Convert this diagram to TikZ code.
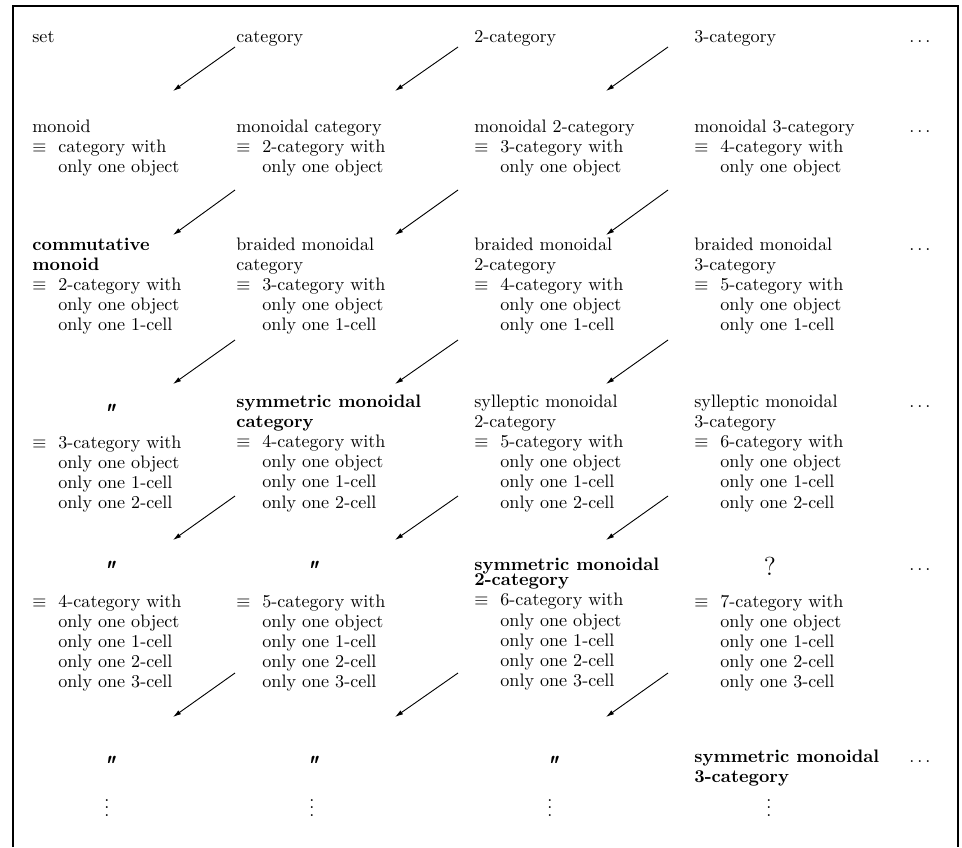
\documentclass[tikz,border=0pt]{standalone}
\usetikzlibrary{arrows.meta}
\newcommand\eqv{\makebox[14.4pt][l]{$\equiv$}}
\newcommand\ind{\hspace*{14.4pt}}
\newcommand\celltext[1]{\begin{tabular}[t]{@{}l@{}}#1\end{tabular}}
\newcommand\tdots{.\kern1.67pt.\kern1.67pt.}
\newcommand\tightvdots{\vbox{\baselineskip4pt\lineskiplimit0pt\hbox{.}\hbox{.}\hbox{.}}}
\tikzset{
  cell/.style={anchor=base west, inner sep=0pt, font=\fontsize{10}{11.17}\selectfont},
  ditto/.style={anchor=base, inner sep=0pt, font=\Large\bfseries\itshape},
  moredots/.style={anchor=base west, inner sep=0pt},
  vdotsnode/.style={anchor=base, inner sep=0pt},
  arr/.style={-{Latex[length=4.5pt,width=2.6pt]}, line width=0.5pt},
  frame/.style={line width=1pt}
}
\begin{document}
\begin{tikzpicture}[x=0.553pt, y=-0.553pt]
\useasboundingbox (0,0) rectangle (962,847);
\draw[frame] (13,847) -- (13,6) -- (958,6) -- (958,847);

% row 0
\node[cell] (n00) at (32,42) {set};
\node[cell] (n01) at (236,42) {category};
\node[cell] (n02) at (474,42) {2-category};
\node[cell] (n03) at (694,42) {3-category};
\node[moredots] (d0) at (909,42) {\tdots};

% row 1
\node[cell] (n10) at (32,132) {\celltext{monoid\\\eqv category with\\\ind only one object}};
\node[cell] (n11) at (236,132) {\celltext{monoidal category\\\eqv 2-category with\\\ind only one object}};
\node[cell] (n12) at (474,132) {\celltext{monoidal 2-category\\\eqv 3-category with\\\ind only one object}};
\node[cell] (n13) at (694,132) {\celltext{monoidal 3-category\\\eqv 4-category with\\\ind only one object}};
\node[moredots] (d1) at (909,132) {\tdots};

% row 2
\node[cell] (n20) at (32,250) {\celltext{\textbf{commutative}\\\textbf{monoid}\\\eqv 2-category with\\\ind only one object\\\ind only one 1-cell}};
\node[cell] (n21) at (236,250) {\celltext{braided monoidal\\category\\\eqv 3-category with\\\ind only one object\\\ind only one 1-cell}};
\node[cell] (n22) at (474,250) {\celltext{braided monoidal\\2-category\\\eqv 4-category with\\\ind only one object\\\ind only one 1-cell}};
\node[cell] (n23) at (694,250) {\celltext{braided monoidal\\3-category\\\eqv 5-category with\\\ind only one object\\\ind only one 1-cell}};
\node[moredots] (d2) at (909,250) {\tdots};

% row 3
\node[ditto] (q30) at (108,422) {\textquotedbl};
\node[cell] (n30) at (32,448) {\celltext{\eqv 3-category with\\\ind only one object\\\ind only one 1-cell\\\ind only one 2-cell}};
\node[cell] (n31) at (236,407) {\celltext{\textbf{symmetric monoidal}\\\textbf{category}\\\eqv 4-category with\\\ind only one object\\\ind only one 1-cell\\\ind only one 2-cell}};
\node[cell] (n32) at (474,407) {\celltext{sylleptic monoidal\\2-category\\\eqv 5-category with\\\ind only one object\\\ind only one 1-cell\\\ind only one 2-cell}};
\node[cell] (n33) at (694,407) {\celltext{sylleptic monoidal\\3-category\\\eqv 6-category with\\\ind only one object\\\ind only one 1-cell\\\ind only one 2-cell}};
\node[moredots] (d3) at (909,407) {\tdots};

% row 4
\node[ditto] (q40) at (108,579) {\textquotedbl};
\node[ditto] (q41) at (311,579) {\textquotedbl};
\node[cell] (n40) at (32,607) {\celltext{\eqv 4-category with\\\ind only one object\\\ind only one 1-cell\\\ind only one 2-cell\\\ind only one 3-cell}};
\node[cell] (n41) at (236,607) {\celltext{\eqv 5-category with\\\ind only one object\\\ind only one 1-cell\\\ind only one 2-cell\\\ind only one 3-cell}};
\node[cell] (n42) at (474,570) {\celltext{\textbf{symmetric monoidal}\\[-2.5pt]\textbf{2-category}\\\eqv 6-category with\\\ind only one object\\\ind only one 1-cell\\\ind only one 2-cell\\\ind only one 3-cell}};
\node[anchor=base, inner sep=0pt, font=\Large] (q43) at (770,575) {?};
\node[cell] (n43) at (694,607) {\celltext{\eqv 7-category with\\\ind only one object\\\ind only one 1-cell\\\ind only one 2-cell\\\ind only one 3-cell}};
\node[moredots] (d4) at (909,570) {\tdots};

% row 5
\node[ditto] (q50) at (108,774) {\textquotedbl};
\node[ditto] (q51) at (311,774) {\textquotedbl};
\node[ditto] (q52) at (551,774) {\textquotedbl};
\node[cell] (n53) at (694,762) {\celltext{\textbf{symmetric monoidal}\\\textbf{3-category}}};
\node[moredots] (d5) at (909,762) {\tdots};
\node[vdotsnode] (v50) at (107,816) {\tightvdots};
\node[vdotsnode] (v51) at (312,816) {\tightvdots};
\node[vdotsnode] (v52) at (550,816) {\tightvdots};
\node[vdotsnode] (v53) at (769,816) {\tightvdots};

% arrows
\foreach \r/\sy/\ey in {0/47/91, 1/190/235, 2/340/384, 3/496/540, 4/673/717}{
  \foreach \g/\sx/\ex in {1/235/173, 2/458/395, 3/668/606}{
    \coordinate (s\r\g) at (\sx,\sy);
    \coordinate (e\r\g) at (\ex,\ey);
    \draw[arr] (s\r\g) -- (e\r\g);
  }
}
\end{tikzpicture}
\end{document}
